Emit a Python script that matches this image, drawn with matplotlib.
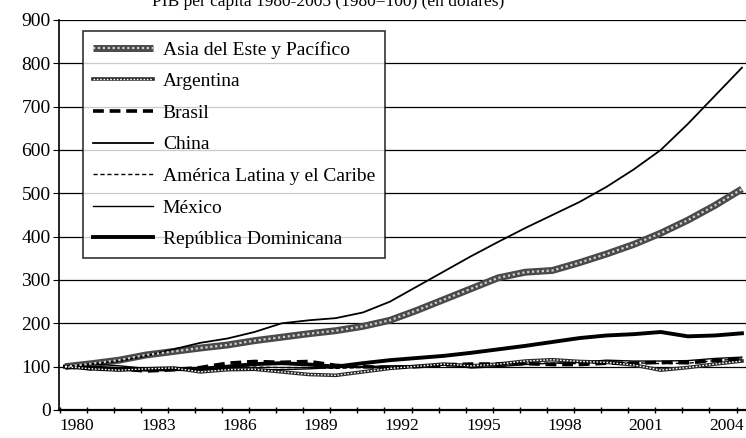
import numpy as np
import matplotlib
matplotlib.use('Agg')
import matplotlib.pyplot as plt
from matplotlib.lines import Line2D

plt.rcParams['font.family'] = ['Liberation Serif', 'DejaVu Serif']

years = list(range(1980, 2006))

asia = [100, 107, 115, 127, 135, 143, 150, 160, 168, 176, 183, 193, 207, 230,
        255, 280, 305, 318, 322, 340, 360, 382, 408, 438, 472, 510]
argentina = [100, 95, 92, 95, 97, 88, 93, 94, 88, 82, 80, 88, 96, 101,
             106, 102, 106, 113, 116, 112, 110, 104, 92, 98, 106, 113]
brasil = [100, 95, 95, 90, 93, 98, 108, 112, 110, 112, 103, 100, 98, 100,
          104, 106, 106, 107, 105, 105, 108, 108, 110, 109, 114, 118]
china = [100, 106, 113, 125, 140, 155, 165, 180, 200, 207, 212, 225, 250, 285,
         320, 355, 388, 420, 450, 480, 515, 555, 600, 660, 725, 790]
latam = [100, 99, 96, 93, 95, 96, 98, 99, 98, 98, 96, 98, 99, 101,
         104, 102, 104, 108, 108, 107, 110, 109, 107, 108, 114, 118]
mexico = [100, 106, 102, 96, 97, 98, 93, 93, 93, 95, 98, 100, 102, 102,
          105, 97, 100, 105, 108, 110, 115, 113, 113, 114, 119, 122]
rep_dom = [100, 98, 95, 93, 94, 95, 100, 106, 108, 105, 100, 108, 115, 120,
           125, 132, 140, 148, 157, 166, 172, 175, 180, 170, 172, 177]

names = ['Asia del Este y Pacífico', 'Argentina', 'Brasil', 'China',
         'América Latina y el Caribe', 'México', 'República Dominicana']
y_ticks = list(range(0, 1000, 100))
x_label_years = list(range(1980, 2005, 3))

fig = plt.figure(figsize=(7.46, 4.38), dpi=100)
ax = fig.add_axes([59 / 746, 1 - 410 / 438, 1 - 59 / 746, 390 / 438])

for v in y_ticks[1:]:
    ax.axhline(v, color='black', lw=0.9, zorder=1)

# textured lines: dark base + light dotted overlay
ax.plot(years, asia, color='#4a4a4a', lw=5, solid_capstyle='butt', zorder=3)
ax.plot(years, asia, color='#d0d0d0', lw=1.6, ls=(0, (1, 1.2)), zorder=4)
ax.plot(years, argentina, color='#2a2a2a', lw=2.6, zorder=3)
ax.plot(years, argentina, color='white', lw=1.0, ls=(0, (1.2, 1.2)), zorder=4)
ax.plot(years, brasil, color='black', lw=2.6, ls=(0, (3, 1.6)), zorder=3)
ax.plot(years, china, color='black', lw=1.3, zorder=3)
ax.plot(years, latam, color='black', lw=1.0, ls=(0, (3, 2)), zorder=3)
ax.plot(years, mexico, color='black', lw=1.0, zorder=3)
ax.plot(years, rep_dom, color='black', lw=2.8, zorder=3)

handles = [
    (Line2D([], [], color='#4a4a4a', lw=5, solid_capstyle='butt'),
     Line2D([], [], color='#d0d0d0', lw=1.6, ls=(0, (1, 1.2)))),
    (Line2D([], [], color='#2a2a2a', lw=2.6),
     Line2D([], [], color='white', lw=1.0, ls=(0, (1.2, 1.2)))),
    Line2D([], [], color='black', lw=2.6, ls=(0, (3, 1.6))),
    Line2D([], [], color='black', lw=1.3),
    Line2D([], [], color='black', lw=1.0, ls=(0, (3, 2))),
    Line2D([], [], color='black', lw=1.0),
    Line2D([], [], color='black', lw=2.8),
]
leg = ax.legend(handles, names, loc='upper left', bbox_to_anchor=(0.035, 0.972),
                borderaxespad=0, fontsize=14, handlelength=3.1, handletextpad=0.5,
                labelspacing=0.72, frameon=True, fancybox=False, borderpad=0.5)
leg.get_frame().set_edgecolor('black')
leg.get_frame().set_linewidth(1.2)
leg.set_zorder(10)

ax.set_xlim(1979.78, 2005.15)
ax.set_ylim(0, 900)
ax.set_yticks(y_ticks)
ax.set_yticklabels([str(v) for v in y_ticks], fontsize=14)
ax.set_xticks([y + 0.45 for y in x_label_years])
ax.set_xticklabels([str(y) for y in x_label_years], fontsize=12.5)
ax.set_xticks([y - 0.2 for y in years], minor=True)
ax.tick_params(axis='x', which='major', length=0, pad=6)
ax.tick_params(axis='x', which='minor', length=5, direction='inout', width=1)
ax.tick_params(axis='y', length=4, direction='out', width=0.8, pad=2)

for s in ['top', 'right']:
    ax.spines[s].set_visible(False)
ax.spines['left'].set_linewidth(1.2)
ax.spines['bottom'].set_linewidth(1.6)

fig.text(0.44, 0.995, 'PIB per cápita 1980-2005 (1980=100) (en dólares)',
         ha='center', va='center', fontsize=12.5)

fig.savefig('out.png', dpi=100)
